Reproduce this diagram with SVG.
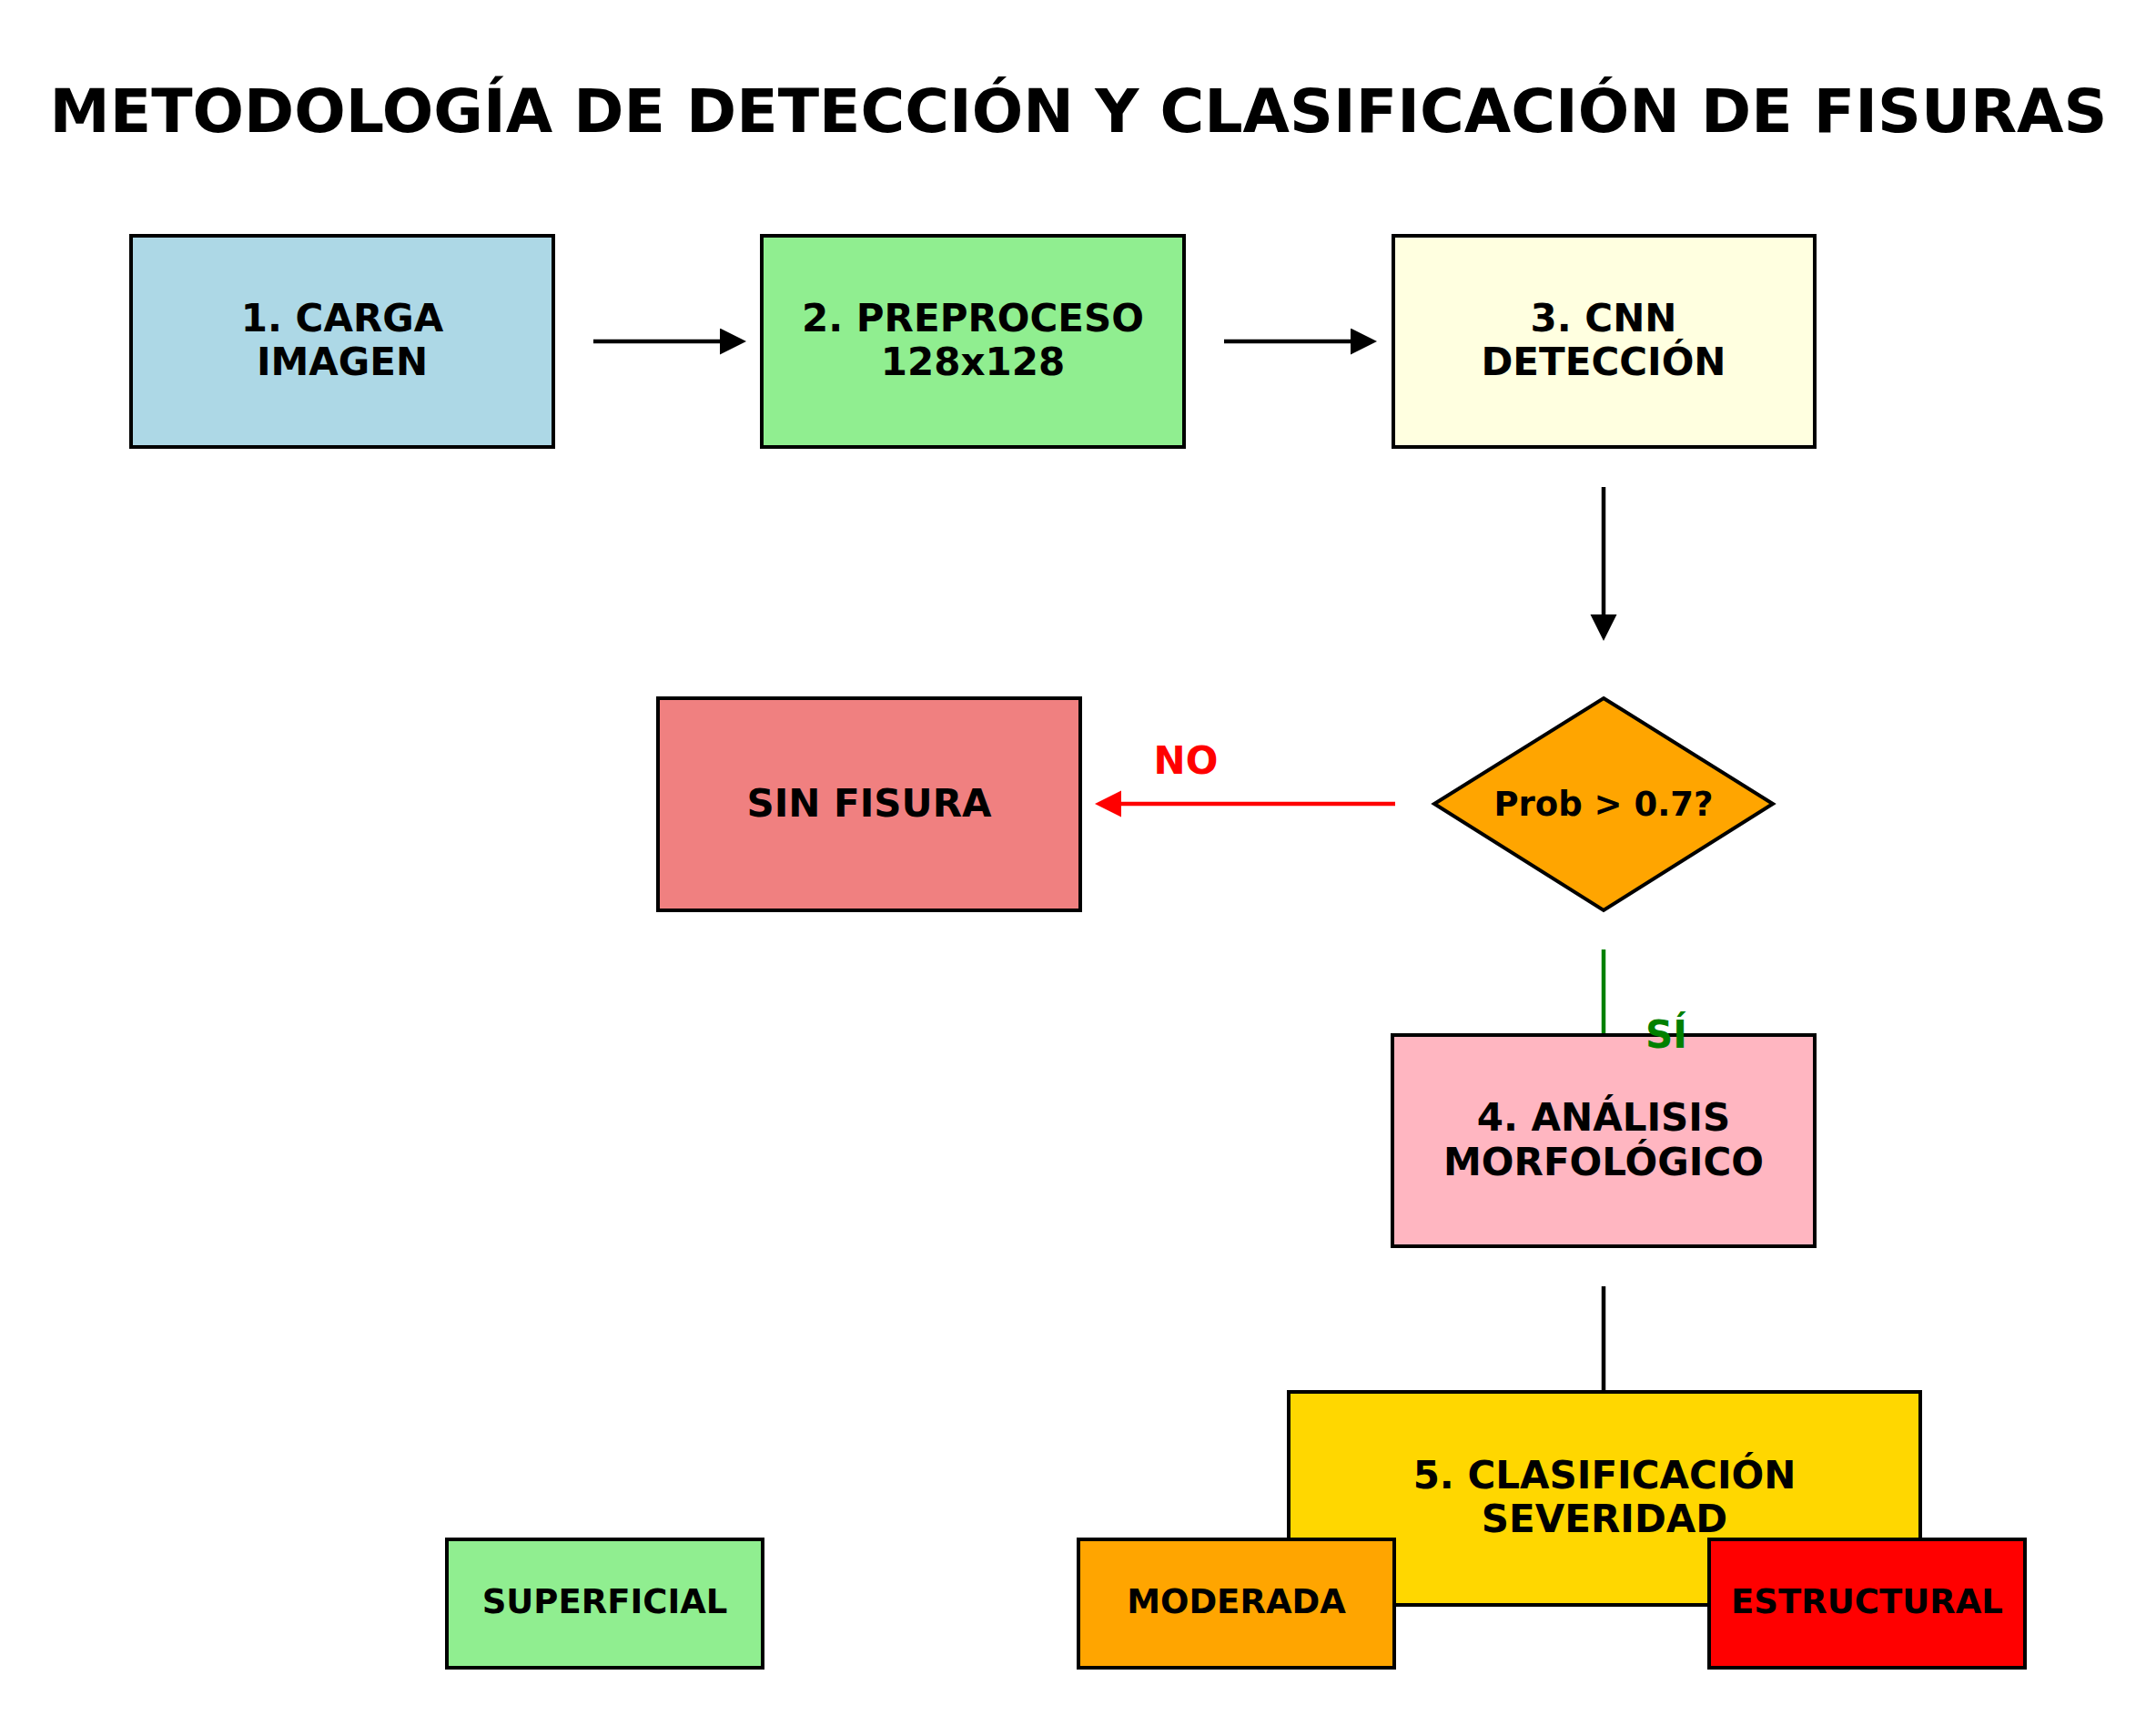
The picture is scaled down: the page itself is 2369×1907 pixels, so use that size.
<svg xmlns="http://www.w3.org/2000/svg" width="2369" height="1907" viewBox="0 0 2369 1907">
<style>
  .node { stroke: #000; stroke-width: 4; }
  .lbl { font-family: "DejaVu Sans", "Liberation Sans", sans-serif; font-weight: bold; fill: #000; text-anchor: middle; }
  .big { font-size: 42px; }
  .small { font-size: 37px; }
  .title { font-family: "DejaVu Sans", "Liberation Sans", sans-serif; font-weight: bold; font-size: 66.5px; text-anchor: middle; fill: #000; }
  .conn { fill: none; stroke-width: 4.5; }
</style>
<defs>
  <marker id="ahBlack" markerUnits="userSpaceOnUse" markerWidth="30" markerHeight="30" refX="0" refY="14.5" orient="auto">
    <path d="M0,0 L29,14.5 L0,29 Z" fill="#000"/>
  </marker>
  <marker id="ahRed" markerUnits="userSpaceOnUse" markerWidth="30" markerHeight="30" refX="0" refY="14.5" orient="auto">
    <path d="M0,0 L29,14.5 L0,29 Z" fill="#FF0000"/>
  </marker>
</defs>
<rect x="0" y="0" width="2369" height="1907" fill="#fff"/>
<text class="title" x="1185" y="145">METODOLOGÍA DE DETECCIÓN Y CLASIFICACIÓN DE FISURAS</text>

<g id="connectors">
  <line class="conn" x1="652" y1="375" x2="791" y2="375" stroke="#000" marker-end="url(#ahBlack)"/>
  <line class="conn" x1="1345" y1="375" x2="1484" y2="375" stroke="#000" marker-end="url(#ahBlack)"/>
  <line class="conn" x1="1762" y1="535" x2="1762" y2="675" stroke="#000" marker-end="url(#ahBlack)"/>
  <line class="conn" x1="1533" y1="883" x2="1232" y2="883" stroke="#FF0000" marker-end="url(#ahRed)"/>
  <text class="lbl big" x="1303" y="850" style="fill:#FF0000">NO</text>
  <line class="conn" x1="1762" y1="1043" x2="1762" y2="1137" stroke="#008000"/>
  <line class="conn" x1="1762" y1="1413" x2="1762" y2="1529" stroke="#000"/>
</g>

<g id="n1">
  <rect class="node" x="144" y="259" width="464" height="232" fill="#ADD8E6"/>
  <text class="lbl big" x="376" y="364">1. CARGA</text>
  <text class="lbl big" x="376" y="412">IMAGEN</text>
</g>
<g id="n2">
  <rect class="node" x="837" y="259" width="464" height="232" fill="#90EE90"/>
  <text class="lbl big" x="1069" y="364">2. PREPROCESO</text>
  <text class="lbl big" x="1069" y="412">128x128</text>
</g>
<g id="n3">
  <rect class="node" x="1531" y="259" width="463" height="232" fill="#FFFFE0"/>
  <text class="lbl big" x="1762" y="364">3. CNN</text>
  <text class="lbl big" x="1762" y="412">DETECCIÓN</text>
</g>
<g id="decision">
  <polygon class="node" points="1762,767 1948,883 1762,1000 1576,883" fill="#FFA500"/>
  <text class="lbl small" x="1762" y="896">Prob &gt; 0.7?</text>
</g>
<g id="sinfisura">
  <rect class="node" x="723" y="767" width="464" height="233" fill="#F08080"/>
  <text class="lbl big" x="955" y="897">SIN FISURA</text>
</g>
<g id="n4">
  <rect class="node" x="1530" y="1137" width="464" height="232" fill="#FFB6C1"/>
  <text class="lbl big" x="1762" y="1242">4. ANÁLISIS</text>
  <text class="lbl big" x="1762" y="1291">MORFOLÓGICO</text>
</g>
<text class="lbl big" x="1831" y="1151" style="fill:#008000">SÍ</text>
<g id="n5">
  <rect class="node" x="1416" y="1529" width="694" height="234" fill="#FFD700"/>
  <text class="lbl big" x="1763" y="1635">5. CLASIFICACIÓN</text>
  <text class="lbl big" x="1763" y="1683">SEVERIDAD</text>
</g>
<g id="superficial">
  <rect class="node" x="491" y="1691" width="347" height="141" fill="#90EE90"/>
  <text class="lbl small" x="664.5" y="1772">SUPERFICIAL</text>
</g>
<g id="moderada">
  <rect class="node" x="1185" y="1691" width="347" height="141" fill="#FFA500"/>
  <text class="lbl small" x="1358.5" y="1772">MODERADA</text>
</g>
<g id="estructural">
  <rect class="node" x="1878" y="1691" width="347" height="141" fill="#FF0000"/>
  <text class="lbl small" x="2051.5" y="1772">ESTRUCTURAL</text>
</g>
</svg>
